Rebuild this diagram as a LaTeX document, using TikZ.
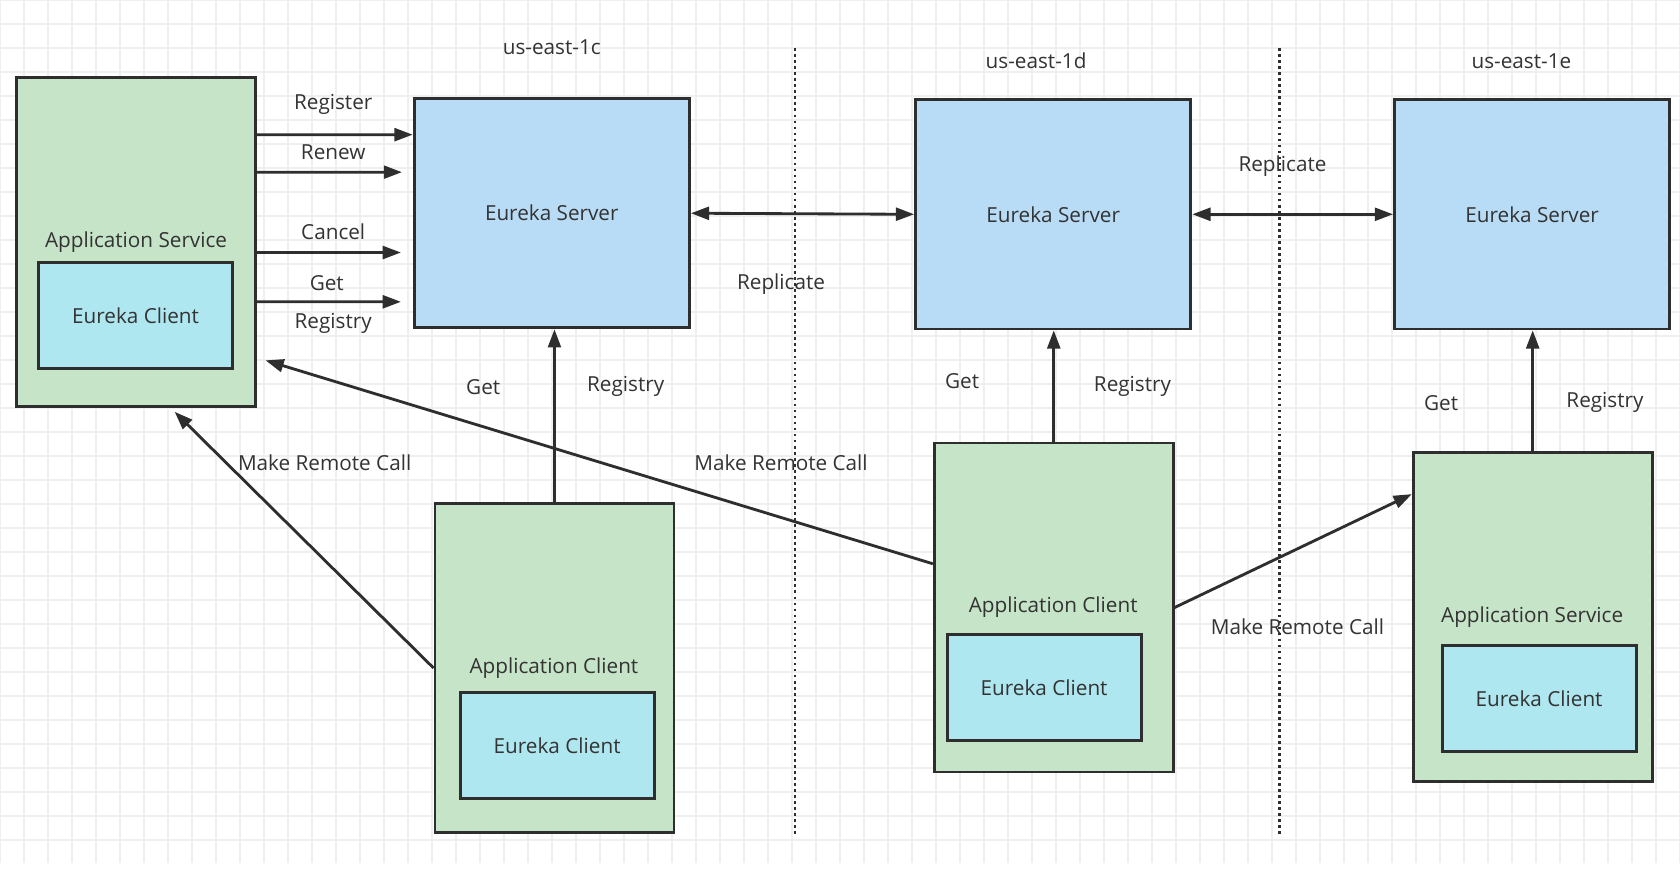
\documentclass[tikz,border=0pt]{standalone}
\usepackage{fontspec}
\setmainfont{Open Sans}
\usepackage{tikz}
\usetikzlibrary{arrows.meta,calc}

\definecolor{svcgreen}{HTML}{C6E4C8}
\definecolor{srvblue}{HTML}{B9DCF6}
\definecolor{ecyan}{HTML}{AFE7F1}
\definecolor{edge}{HTML}{2E2E2E}
\definecolor{txt}{HTML}{333333}
\definecolor{gridc}{HTML}{EFEFEF}

\begin{document}
\begin{tikzpicture}[x=0.2mm,y=-0.2mm]
			\tikzstyle{every node}+=[inner sep=0pt, text=txt, font=\fontsize{11}{13}\selectfont]
			\tikzstyle{appbox}=[draw=edge, line width=1.5pt, fill=svcgreen, minimum width=44.6mm, minimum height=61.4mm]
			\tikzstyle{srvbox}=[draw=edge, line width=1.5pt, fill=srvblue, minimum width=51.4mm, minimum height=42.8mm]
			\tikzstyle{ecbox}=[draw=edge, line width=1.5pt, fill=ecyan, minimum width=36.2mm, minimum height=19.8mm]
			\tikzstyle{conn}=[draw=edge, line width=1.5pt, -{Triangle[length=3.4mm,width=2.4mm]}]
			\tikzstyle{biconn}=[conn, {Triangle[length=3.4mm,width=2.4mm]}-{Triangle[length=3.4mm,width=2.4mm]}]
			\tikzstyle{zone}=[draw=edge, line width=1.5pt, dash pattern=on 1.4pt off 1.8pt]
			\useasboundingbox (0,0) rectangle (1568,823);
			\fill [white] (0,0) rectangle (1568,823);
			\foreach \gx in {0,22.4,...,1568} \draw [gridc, line width=0.6pt] (\gx,0) -- (\gx,805);
			\foreach \gy in {0,22.4,...,805} \draw [gridc, line width=0.6pt] (0,\gy) -- (1568,\gy);
			\coordinate (sepCDtop) at (742,45);
			\coordinate (sepCDbot) at (742,778);
			\coordinate (sepDEtop) at (1194,45);
			\coordinate (sepDEbot) at (1194,778);
			\draw [zone] (sepCDtop) -- (sepCDbot);
			\draw [zone] (sepDEtop) -- (sepDEbot);
			\node (zoneC) at (515,44) {us-east-1c};
			\node (zoneD) at (967,57) {us-east-1d};
			\node (zoneE) at (1420,57) {us-east-1e};
			\node [appbox] (svcC) at (127,225.5) {};
			\node (svcCtxt) at (127,226) {Application Service};
			\node [ecbox] (ecC) at (126.5,294.5) {Eureka Client};
			\node [srvbox] (srvC) at (515,199) {Eureka Server};
			\node [srvbox] (srvD) at (983,200) {Eureka Server};
			\node [srvbox] (srvE) at (1430,200) {Eureka Server};
			\node [appbox] (cliC) at (517.5,623.5) {};
			\node (cliCtxt) at (517,624) {Application Client};
			\node [ecbox] (ecCC) at (520,696) {Eureka Client};
			\node [appbox] (cliD) at (983.5,567) {};
			\node (cliDtxt) at (983,567) {Application Client};
			\node [ecbox] (ecD) at (974.5,641.5) {Eureka Client};
			\node [appbox] (svcE) at (1430.5,576) {};
			\node (svcEtxt) at (1430,576) {Application Service};
			\node [ecbox] (ecE) at (1436.5,652) {Eureka Client};
			\draw [conn] ($(svcC.north east)+(0,55)$) -- ($(srvC.north west)+(0,35)$);
			\draw [conn] ($(svcC.north east)+(0,90)$) -- ($(srvC.north west)+(-10,70)$);
			\draw [conn] ($(svcC.north east)+(0,165)$) -- ($(srvC.north west)+(-11,145)$);
			\draw [conn] ($(svcC.north east)+(0,211)$) -- ($(srvC.north west)+(-11,191)$);
			\node (lblRegister) at (311,97) {Register};
			\node (lblRenew) at (311,142) {Renew};
			\node (lblCancel) at (311,216) {Cancel};
			\node (lblGetC) at (305,264) {Get};
			\node (lblRegC) at (311,302) {Registry};
			\draw [biconn] (srvC.east) -- (srvD.west);
			\draw [biconn] (srvD.east) -- (srvE.west);
			\node (lblRepCD) at (729,265) {Replicate};
			\node (lblRepDE) at (1197,155) {Replicate};
			\draw [conn] (cliC.north) -- (cliC.north |- srvC.south);
			\draw [conn] (cliD.north) -- (cliD.north |- srvD.south);
			\draw [conn] (svcE.north) -- (svcE.north |- srvE.south);
			\node (lblGetCC) at (451,361) {Get};
			\node (lblRegCC) at (584,361) {Registry};
			\node (lblGetD) at (898,356) {Get};
			\node (lblRegD) at (1057,361) {Registry};
			\node (lblGetE) at (1345,376) {Get};
			\node (lblRegE) at (1498,376) {Registry};
			\draw [conn] (cliC.west) -- ($(svcC.south)+(36,4)$);
			\draw [conn] ($(cliD.north west)+(0,114)$) -- ($(svcC.south east)+(8,-44)$);
			\draw [conn] (cliD.east) -- ($(svcE.north west)+(0,40)$);
			\node (lblCallC) at (303,432) {Make Remote Call};
			\node (lblCallD) at (729,432) {Make Remote Call};
			\node (lblCallE) at (1211,585) {Make Remote Call};
\end{tikzpicture}
\end{document}
